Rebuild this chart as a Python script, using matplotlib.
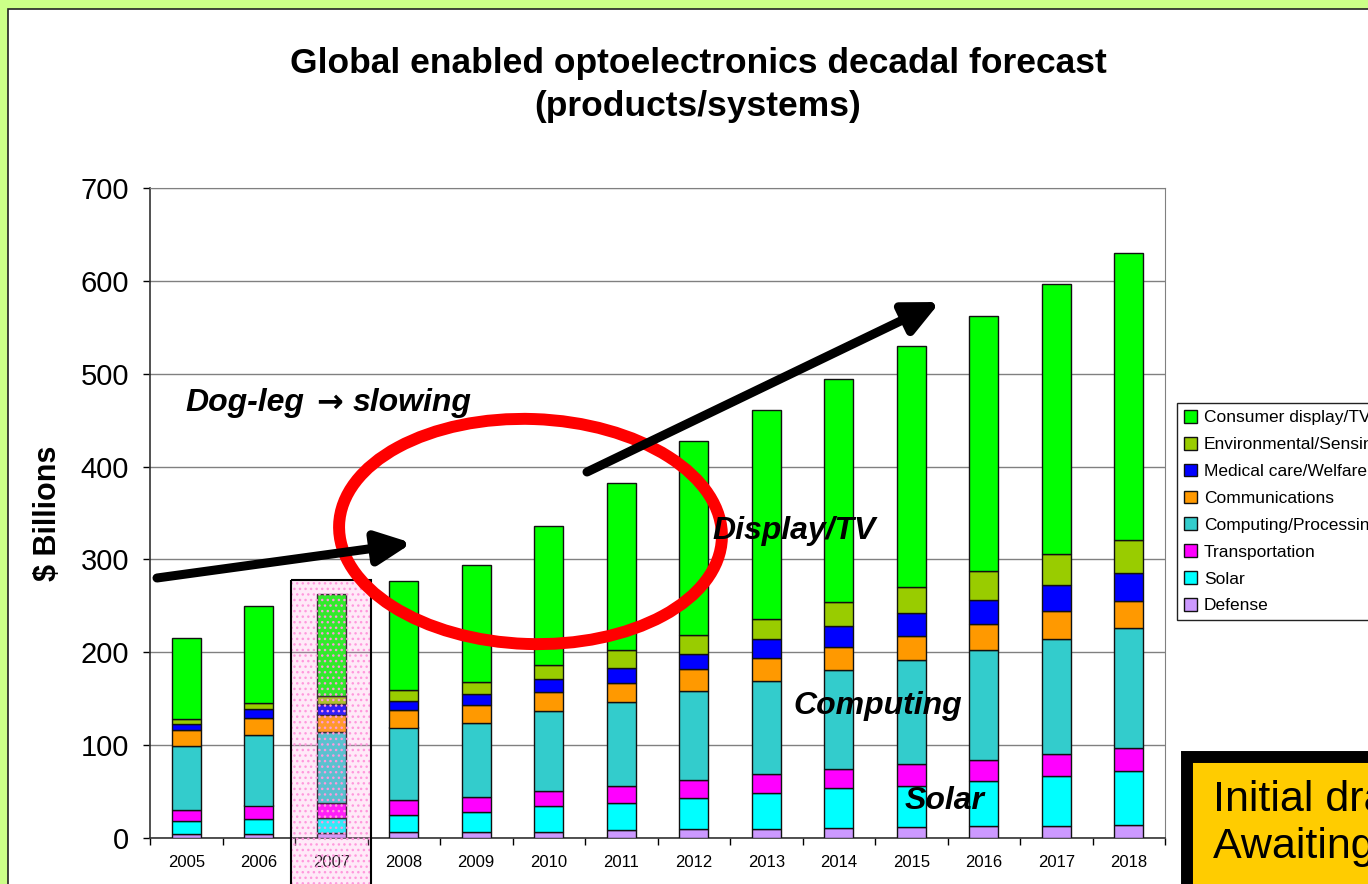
import matplotlib
matplotlib.use("Agg")
import matplotlib.pyplot as plt
import numpy as np
from matplotlib.patches import Rectangle, Ellipse

plt.rcParams['font.family'] = ['Liberation Sans', 'DejaVu Sans']

years = ['2005', '2006', '2007', '2008', '2009', '2010', '2011',
         '2012', '2013', '2014', '2015', '2016', '2017', '2018']

# $ billions per segment, stacked bottom to top
defense = [4, 4, 5, 6, 6, 7, 8.5, 10, 10, 11, 11.5, 12.5, 12.5, 14]
solar = [14, 16, 17, 18.5, 22.5, 27, 29, 33.5, 38.5, 42.5, 45, 49, 54.5, 58.5]
transportation = [12, 15, 16, 16.5, 16, 16.5, 18.5, 19, 20.5, 20.5, 23, 22.5, 23, 24.5]
computing = [69, 76, 76.5, 78, 79.5, 86, 90, 95.5, 100.5, 106.5, 112, 119, 124.5, 129.5]
communications = [17, 18, 18.5, 18.5, 19, 21, 21, 23.5, 24, 25, 26.5, 27.5, 29.5, 29]
medical = [7, 10, 11, 10.5, 12, 13.5, 16.5, 17, 20.5, 22.5, 24.5, 26, 28, 29.5]
environmental = [5, 6, 8.5, 11, 13.5, 15, 19, 20.5, 22, 26, 28, 31, 33.5, 36]
consumer = [87, 104.5, 110.5, 117.5, 125, 150, 180, 209, 225, 240.5, 259, 275, 291, 308.5]

series = [
    ('Defense', defense, '#CC99FF'),
    ('Solar', solar, '#00FFFF'),
    ('Transportation', transportation, '#FF00FF'),
    ('Computing/Processing', computing, '#33CCCC'),
    ('Communications', communications, '#FF9900'),
    ('Medical care/Welfare', medical, '#0000FF'),
    ('Environmental/Sensing', environmental, '#99CC00'),
    ('Consumer display/TV', consumer, '#00FF00'),
]

W, H = 1368, 884
fig = plt.figure(figsize=(W / 100, H / 100), dpi=100, facecolor='#CCFF88')

# white slide panel
fig.patches.append(Rectangle((8 / W, 1 - 1400 / H), 1400 / W, 1391 / H,
                             transform=fig.transFigure, facecolor='white',
                             edgecolor='#222222', lw=1.2, zorder=-10))

ax = fig.add_axes([150 / W, 1 - 838 / H, 1015 / W, 650 / H])
x = np.arange(len(years))
bottom = np.zeros(len(years))
handles = []
for name, vals, col in series:
    b = ax.bar(x, vals, 0.4, bottom=bottom, color=col, edgecolor='#111111',
               lw=1.0, label=name, zorder=3)
    handles.append(b)
    bottom += np.array(vals)

ax.set_xlim(-0.5, len(years) - 0.5)
ax.set_ylim(0, 700)
ax.set_yticks(np.arange(0, 701, 100))
ax.yaxis.grid(True, color='#808080', lw=1.0, zorder=0)
ax.set_axisbelow(True)
ax.tick_params(axis='y', labelsize=21, length=5, width=1, pad=10, direction='out')
ax.set_xticks(x)
ax.set_xticklabels(years)
ax.set_xticks(np.arange(-0.5, len(years), 1), minor=True)
ax.tick_params(axis='x', which='major', length=0, labelsize=12, pad=12)
ax.tick_params(axis='x', which='minor', length=5, width=1, direction='out')
for s in ('top', 'right'):
    ax.spines[s].set_color('#808080')
for s in ('left', 'bottom'):
    ax.spines[s].set_color('#333333')
    ax.spines[s].set_linewidth(1.2)

ax.set_ylabel('$ Billions', fontsize=22, fontweight='bold', labelpad=13)

fig.text(698 / W, 1 - 85 / H,
         'Global enabled optoelectronics decadal forecast\n(products/systems)',
         ha='center', va='center', fontsize=25.5, fontweight='bold',
         linespacing=1.38)

leg = ax.legend(handles[::-1], [s[0] for s in series][::-1],
                loc='upper left', bbox_to_anchor=(1177 / W, 1 - 403 / H),
                bbox_transform=fig.transFigure, fontsize=12.5, frameon=True,
                fancybox=False, edgecolor='#222222', framealpha=1,
                handlelength=0.75, handleheight=0.75, handletextpad=0.4,
                labelspacing=0.66, borderpad=0.4, borderaxespad=0)
leg.get_frame().set_linewidth(1.0)

# overlay in pixel units for the callouts
deco = fig.add_axes([0, 0, 1, 1])
deco.set_xlim(0, W)
deco.set_ylim(H, 0)
deco.axis('off')

# 2007 highlight
deco.add_patch(Rectangle((291, 580), 80, 320, facecolor=(1.0, 0.6, 0.88, 0.2),
                         edgecolor='none'))
deco.add_patch(Rectangle((291, 580), 80, 320, facecolor='none',
                         edgecolor='#FF99DD', hatch='...', lw=0))
deco.add_patch(Rectangle((291, 580), 80, 320, facecolor='none',
                         edgecolor='black', lw=1.5))

deco.add_patch(Ellipse((530.5, 531.5), 383, 225, angle=2, facecolor='none',
                       edgecolor='#FF0000', lw=8.6))

arrow = dict(arrowstyle='-|>,head_length=0.95,head_width=0.45', color='black',
             lw=6.5, mutation_scale=22, shrinkA=0, shrinkB=0)
deco.annotate('', xy=(412, 543), xytext=(157, 578), arrowprops=arrow)
deco.annotate('', xy=(940, 302), xytext=(587, 472), arrowprops=arrow)

callout = dict(fontsize=23, fontweight='bold', fontstyle='italic',
               ha='left', va='center')
deco.text(185, 403, 'Dog-leg', **callout)
deco.text(330, 403, '\u2192', fontsize=23, fontweight='bold',
          family='DejaVu Sans', ha='center', va='center')
deco.text(353, 403, 'slowing', **callout)
deco.text(712, 531, 'Display/TV', **callout)
deco.text(793, 706, 'Computing', **callout)
deco.text(905, 801, 'Solar', **callout)

deco.add_patch(Rectangle((1187, 757), 300, 200, facecolor='#FFCC00',
                         edgecolor='black', lw=8.6))
deco.text(1213, 800, 'Initial draft', fontsize=31, ha='left', va='center')
deco.text(1213, 847, 'Awaiting review', fontsize=31, ha='left', va='center')

fig.savefig('out.png', dpi=100, facecolor=fig.get_facecolor())
